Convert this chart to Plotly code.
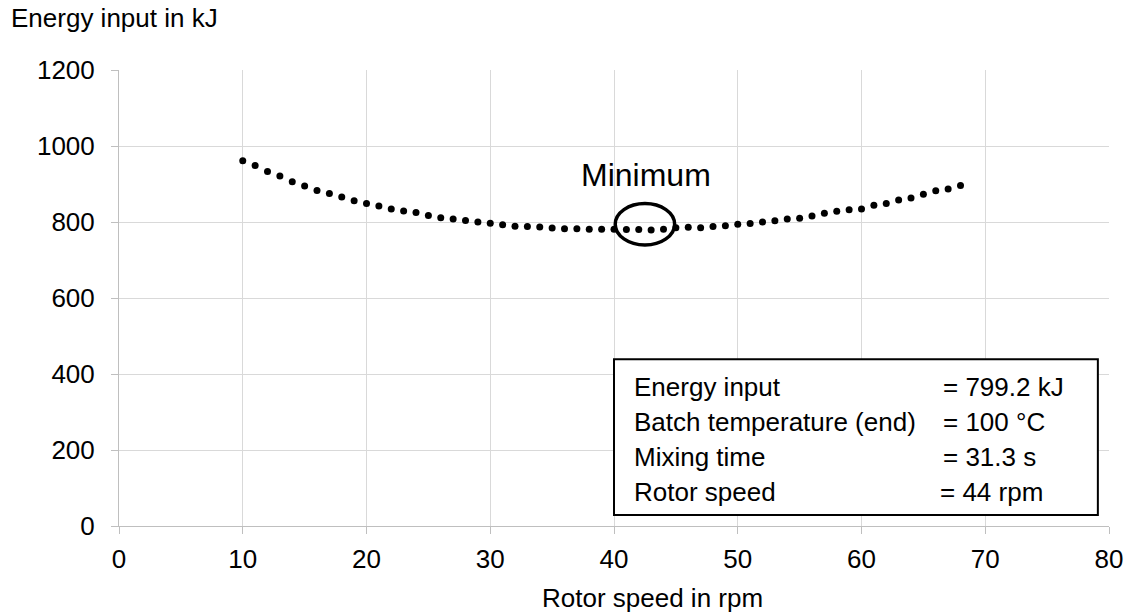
import plotly.graph_objects as go

# Data
rotor_speed = list(range(10, 69))
energy_input = [961, 949, 933, 921, 906, 895, 883, 875, 866, 856,
                849, 842, 834, 829, 825, 817, 811, 808, 804, 800,
                797, 793, 789, 788, 787, 784, 782, 782, 781, 781,
                781, 780, 780, 779, 781, 785, 786, 785, 788, 790,
                794, 796, 800, 803, 808, 810, 816, 823, 828, 832,
                834, 844, 849, 858, 863, 873, 882, 887, 896]

x_ticks = [0, 10, 20, 30, 40, 50, 60, 70, 80]
y_ticks = [0, 200, 400, 600, 800, 1000, 1200]

box_labels = ["Energy input", "Batch temperature (end)", "Mixing time", "Rotor speed"]
box_values = ["= 799.2 kJ", "= 100 °C", "= 31.3 s", "= 44 rpm"]

FONT = "Arial, Liberation Sans, sans-serif"
FS = 26

fig = go.Figure()
fig.add_trace(go.Scatter(
    x=rotor_speed, y=energy_input, mode="markers",
    marker=dict(color="black", size=7),
    hoverinfo="x+y", showlegend=False))

axis_common = dict(
    showgrid=True, gridcolor="#d9d9d9", gridwidth=1,
    showline=True, linecolor="#bfbfbf", linewidth=1,
    ticks="outside", ticklen=7, tickcolor="#bfbfbf", tickwidth=1,
    zeroline=False, tickfont=dict(family=FONT, size=FS, color="black"),
)
fig.update_xaxes(range=[0, 80], tickvals=x_ticks, ticklabelstandoff=3, **axis_common)
fig.update_yaxes(range=[0, 1200], tickvals=y_ticks, ticklabelstandoff=11, **axis_common)

# Ellipse around minimum
fig.add_shape(type="circle", xref="x", yref="y", x0=40.1, x1=44.9, y0=739.5, y1=848.7,
              line=dict(color="black", width=3.5))
# Info box
fig.add_shape(type="rect", xref="x", yref="y", x0=40.0, x1=79.1, y0=29, y1=438.7,
              line=dict(color="black", width=2), fillcolor="white", layer="above")

line_y = [366.6, 274.5, 182.4, 90.3]
val_x = [66.39, 66.39, 66.39, 66.15]
annotations = []
for lab, val, yy, vx in zip(box_labels, box_values, line_y, val_x):
    annotations.append(dict(x=41.42, y=yy, xref="x", yref="y", text=lab, showarrow=False,
                            xanchor="left", yanchor="middle",
                            font=dict(family=FONT, size=FS, color="black")))
    annotations.append(dict(x=vx, y=yy, xref="x", yref="y", text=val, showarrow=False,
                            xanchor="left", yanchor="middle",
                            font=dict(family=FONT, size=FS, color="black")))

annotations.append(dict(x=42.6, y=924.5, xref="x", yref="y", text="Minimum", showarrow=False,
                        xanchor="center", yanchor="middle",
                        font=dict(family=FONT, size=32, color="black")))
annotations.append(dict(x=-0.1115, y=1.1134, xref="paper", yref="paper", text="Energy input in kJ",
                        showarrow=False, xanchor="left", yanchor="middle",
                        font=dict(family=FONT, size=FS, color="black")))
annotations.append(dict(x=0.539, y=-0.1586, xref="paper", yref="paper", text="Rotor speed in rpm",
                        showarrow=False, xanchor="center", yanchor="middle",
                        font=dict(family=FONT, size=FS, color="black")))

fig.update_layout(
    width=1135, height=613,
    margin=dict(l=119, r=20, t=70, b=87),
    paper_bgcolor="white", plot_bgcolor="white",
    showlegend=False,
    annotations=annotations,
    font=dict(family=FONT, size=FS, color="black"),
)

fig.write_html("out.html", include_plotlyjs=True, config={"displayModeBar": False})
